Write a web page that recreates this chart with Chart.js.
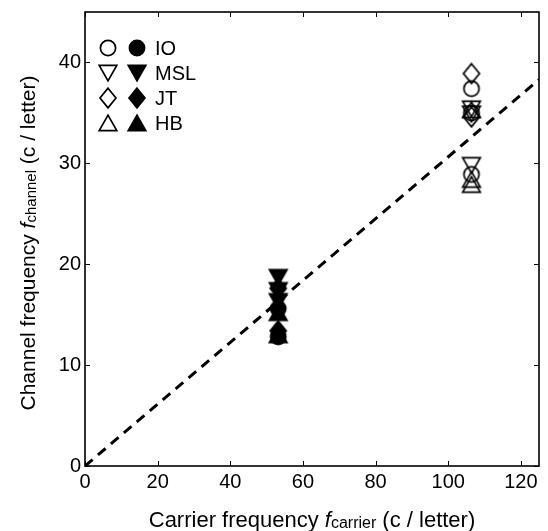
<!DOCTYPE html>
<html>
<head>
<meta charset="utf-8">
<script src="https://cdn.jsdelivr.net/npm/chart.js@4.4.1/dist/chart.umd.min.js"></script>
<style>
  html, body { margin: 0; padding: 0; background: #fff; }
</style>
</head>
<body>
<canvas id="chart" width="548" height="531"></canvas>
<script>
// carrier frequencies tested (c / letter)
const carrierLow = 53.2;
const carrierHigh = 106.4;

// channel frequency estimates, open = high carrier, filled = low carrier
const observers = ['IO', 'MSL', 'JT', 'HB'];
const ioOpen = [37.4, 35.0, 28.9];
const ioFilled = [15.6, 12.8];
const mslOpen = [35.4, 34.9, 29.8];
const mslFilled = [18.7, 17.4, 16.3];
const jtOpen = [38.9, 34.6];
const jtFilled = [17.6, 13.4];
const hbOpen = [35.3, 28.4, 27.9];
const hbFilled = [15.2, 13.0];

// dashed reference line end points
const refX = [0, 125];
const refY = [0, 38.3];

const xTicks = [0, 20, 40, 60, 80, 100, 120];
const yTicks = [0, 10, 20, 30, 40];

const FONT = '"Liberation Sans", Arial, sans-serif';

// marker images, drawn centred like matlab markers
function marker(shape, filled) {
  const c = document.createElement('canvas');
  c.width = 26; c.height = 26;
  const g = c.getContext('2d');
  g.translate(13, 13);
  g.beginPath();
  if (shape === 'o') {
    g.arc(0, 0, 7.6, 0, Math.PI * 2);
  } else if (shape === 'v') {
    g.moveTo(-8.8, -7.6); g.lineTo(8.8, -7.6); g.lineTo(0, 7.8); g.closePath();
  } else if (shape === '^') {
    g.moveTo(-8.8, 7.6); g.lineTo(8.8, 7.6); g.lineTo(0, -7.8); g.closePath();
  } else {
    g.moveTo(0, -9.8); g.lineTo(8, 0); g.lineTo(0, 9.8); g.lineTo(-8, 0); g.closePath();
  }
  g.lineWidth = 1.7;
  g.strokeStyle = '#000';
  if (filled) { g.fillStyle = '#000'; g.fill(); }
  g.stroke();
  return c;
}

const shapes = ['o', 'v', 'd', '^'];
const openSets = [ioOpen, mslOpen, jtOpen, hbOpen];
const filledSets = [ioFilled, mslFilled, jtFilled, hbFilled];
const openMarks = shapes.map(s => marker(s, false));
const filledMarks = shapes.map(s => marker(s, true));

const datasets = [{
  type: 'line',
  data: refX.map((x, i) => ({ x: x, y: refY[i] })),
  borderColor: '#000',
  borderWidth: 3,
  borderDash: [10, 7],
  pointRadius: 0,
  fill: false
}];
observers.forEach((name, i) => {
  datasets.push({
    label: name + ' open',
    data: openSets[i].map(v => ({ x: carrierHigh, y: v })),
    pointStyle: openMarks[i],
    showLine: false
  });
  datasets.push({
    label: name + ' filled',
    data: filledSets[i].map(v => ({ x: carrierLow, y: v })),
    pointStyle: filledMarks[i],
    showLine: false
  });
});

function drawRich(ctx, parts) {
  let w = 0;
  parts.forEach(p => { ctx.font = p.font; w += ctx.measureText(p.t).width; });
  let x = -w / 2;
  parts.forEach(p => {
    ctx.font = p.font;
    ctx.fillText(p.t, x, p.dy || 0);
    x += ctx.measureText(p.t).width;
  });
}

const boxPlugin = {
  id: 'box',
  afterDraw(chart) {
    const ctx = chart.ctx;
    const a = chart.chartArea;
    const xs = chart.scales.x, ys = chart.scales.y;
    ctx.save();
    ctx.strokeStyle = '#000';
    ctx.lineWidth = 1.6;
    ctx.strokeRect(a.left, a.top, a.right - a.left, a.bottom - a.top);
    ctx.lineWidth = 1;
    ctx.beginPath();
    xTicks.forEach(v => {
      const px = Math.round(xs.getPixelForValue(v)) + 0.5;
      ctx.moveTo(px, a.bottom); ctx.lineTo(px, a.bottom - 5);
      ctx.moveTo(px, a.top); ctx.lineTo(px, a.top + 5);
    });
    yTicks.forEach(v => {
      const py = Math.round(ys.getPixelForValue(v)) + 0.5;
      ctx.moveTo(a.left, py); ctx.lineTo(a.left + 5, py);
      ctx.moveTo(a.right, py); ctx.lineTo(a.right - 5, py);
    });
    ctx.stroke();

    // legend: open and filled marker side by side
    ctx.fillStyle = '#000';
    ctx.textBaseline = 'middle';
    ctx.textAlign = 'left';
    ctx.font = '20px ' + FONT;
    observers.forEach((name, i) => {
      const y = a.top + 36 + i * 25;
      ctx.drawImage(openMarks[i], a.left + 23 - 13, y - 13);
      ctx.drawImage(filledMarks[i], a.left + 52 - 13, y - 13);
      ctx.fillText(name, a.left + 70, y + 1);
    });

    // axis titles
    ctx.textBaseline = 'alphabetic';
    ctx.save();
    ctx.translate((a.left + a.right) / 2, 527);
    drawRich(ctx, [
      { t: 'Carrier frequency ', font: '22px ' + FONT },
      { t: 'f', font: 'italic 22px ' + FONT },
      { t: 'carrier', font: '16px ' + FONT, dy: 1 },
      { t: ' (c / letter)', font: '22px ' + FONT }
    ]);
    ctx.restore();
    ctx.save();
    ctx.translate(35, (a.top + a.bottom) / 2 + 4);
    ctx.rotate(-Math.PI / 2);
    drawRich(ctx, [
      { t: 'Channel frequency ', font: '21px ' + FONT },
      { t: 'f', font: 'italic 21px ' + FONT },
      { t: 'channel', font: '15px ' + FONT, dy: 1 },
      { t: ' (c / letter)', font: '21px ' + FONT }
    ]);
    ctx.restore();
    ctx.restore();
  }
};

new Chart(document.getElementById('chart'), {
  type: 'scatter',
  data: { datasets: datasets },
  options: {
    responsive: false,
    animation: false,
    layout: { padding: { top: 12, right: 9, left: 0, bottom: 0 } },
    plugins: { legend: { display: false }, tooltip: { enabled: false } },
    scales: {
      x: {
        type: 'linear', min: 0, max: 125,
        afterBuildTicks: s => { s.ticks = xTicks.map(v => ({ value: v })); },
        afterFit: s => { s.height = 65; },
        grid: { display: false },
        border: { display: false },
        ticks: { color: '#000', font: { family: FONT, size: 20 }, padding: -4, maxRotation: 0 }
      },
      y: {
        type: 'linear', min: 0, max: 45,
        afterBuildTicks: s => { s.ticks = yTicks.map(v => ({ value: v })); },
        afterFit: s => { s.width = 85; },
        grid: { display: false },
        border: { display: false },
        ticks: { color: '#000', font: { family: FONT, size: 20 }, padding: -4 }
      }
    }
  },
  plugins: [boxPlugin]
});
</script>
</body>
</html>
